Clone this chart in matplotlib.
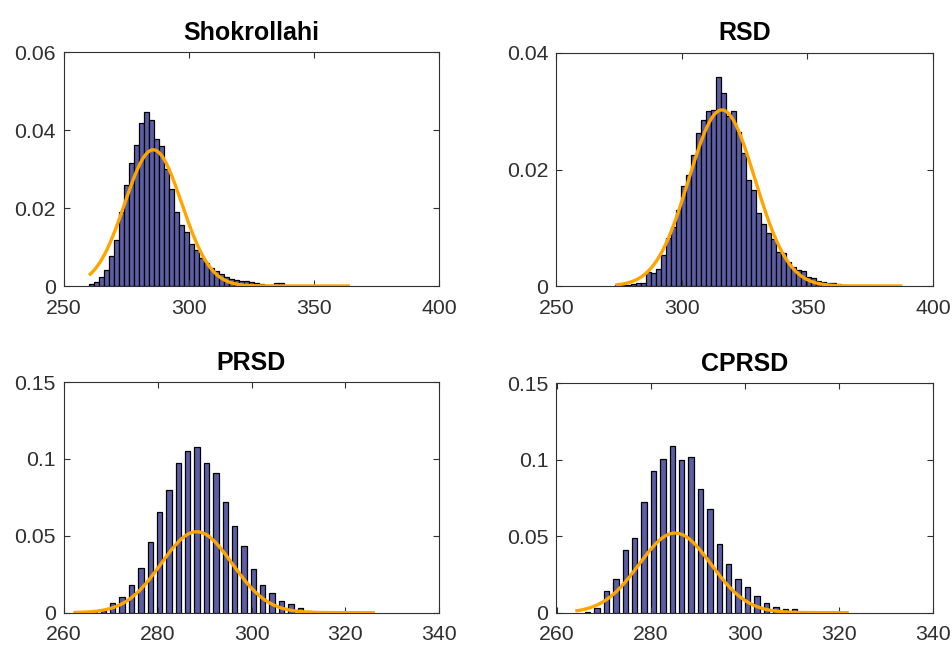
import numpy as np
import matplotlib.pyplot as plt

plt.rcParams['font.family'] = ['Liberation Sans', 'DejaVu Sans']

# histogram densities
shok_left = 260          # first bin edge, bins are 2 wide
shok_density = [0.0004, 0.0010, 0.0022, 0.0041, 0.0078, 0.0118, 0.0190, 0.0259,
                0.0316, 0.0362, 0.0418, 0.0448, 0.0427, 0.0378, 0.0360, 0.0300,
                0.0248, 0.0190, 0.0157, 0.0139, 0.0109, 0.0092, 0.0071, 0.0058,
                0.0045, 0.0038, 0.0030, 0.0022, 0.0018, 0.0015, 0.0014, 0.0012,
                0.0009, 0.0007, 0.0004, 0.0002, 0.0002, 0.0008, 0.0008]

rsd_left = 273.5
rsd_density = [0.0001, 0.0001, 0.0002, 0.0003, 0.0005, 0.0006, 0.0024, 0.0022,
               0.0030, 0.0054, 0.0082, 0.0102, 0.0131, 0.0171, 0.0190, 0.0225,
               0.0262, 0.0285, 0.0300, 0.0302, 0.0359, 0.0331, 0.0292, 0.0300,
               0.0265, 0.0228, 0.0182, 0.0165, 0.0126, 0.0107, 0.0091, 0.0080,
               0.0059, 0.0057, 0.0042, 0.0033, 0.0028, 0.0025, 0.0016, 0.0013,
               0.0009, 0.0007, 0.0006, 0.0005, 0.0004]

prsd_first = 266.4       # first bar centre, bars every 2
prsd_density = [0.0004, 0.0012, 0.0063, 0.0104, 0.0178, 0.0293, 0.0461, 0.0654,
                0.0797, 0.0976, 0.1052, 0.1078, 0.0974, 0.0911, 0.0720, 0.0564,
                0.0434, 0.0283, 0.0178, 0.0126, 0.0079, 0.0054, 0.0028, 0.0008]

cprsd_first = 266.6
cprsd_density = [0.0007, 0.0029, 0.0140, 0.0218, 0.0409, 0.0487, 0.0720, 0.0927,
                 0.1002, 0.1090, 0.1000, 0.1015, 0.0810, 0.0680, 0.0447, 0.0317,
                 0.0218, 0.0167, 0.0112, 0.0061, 0.0037, 0.0026, 0.0026]

# normal fits (mean, std, x range of the curve)
fit_mu = [285.7, 315.9, 288.3, 285.2]
fit_sd = [11.4, 13.2, 7.58, 7.67]
fit_lo = [260.0, 273.5, 262.0, 264.0]
fit_hi = [364.4, 387.8, 326.3, 322.1]

titles = ['Shokrollahi', 'RSD', 'PRSD', 'CPRSD']
xticks = [[250, 300, 350, 400], [250, 300, 350, 400],
          [260, 280, 300, 320, 340], [260, 280, 300, 320, 340]]
yticks = [[0, 0.02, 0.04, 0.06], [0, 0.02, 0.04],
          [0, 0.05, 0.1, 0.15], [0, 0.05, 0.1, 0.15]]

W, H = 953, 653
fig = plt.figure(figsize=(W / 100, H / 100), dpi=100)
boxes = [(64, 52.5, 439, 286), (556.5, 53, 933, 286),
         (64, 382, 439, 612.7), (556.5, 383, 933, 612.7)]
axes = [fig.add_axes([l / W, 1 - b / H, (r - l) / W, (b - t) / H])
        for l, t, r, b in boxes]

bar_col = '#5b5ea4'
ink = '#303030'

# contiguous bins
for ax, left, dens in [(axes[0], shok_left, shok_density),
                       (axes[1], rsd_left, rsd_density)]:
    x = left + 2 * np.arange(len(dens))
    ax.bar(x, dens, width=2, align='edge', color=bar_col,
           edgecolor='black', linewidth=0.9)

# discrete values, every other bin
for ax, first, dens in [(axes[2], prsd_first, prsd_density),
                        (axes[3], cprsd_first, cprsd_density)]:
    x = first + 2 * np.arange(len(dens))
    ax.bar(x, dens, width=1.15, align='center', color=bar_col,
           edgecolor='black', linewidth=0.9)

for i, ax in enumerate(axes):
    xs = np.linspace(fit_lo[i], fit_hi[i], 300)
    mu, sd = fit_mu[i], fit_sd[i]
    ys = np.exp(-0.5 * ((xs - mu) / sd) ** 2) / (sd * np.sqrt(2 * np.pi))
    ax.plot(xs, ys, color='#ffa500', linewidth=2.4, solid_capstyle='butt')

    ax.set_xlim(xticks[i][0], xticks[i][-1])
    ax.set_ylim(yticks[i][0], yticks[i][-1])
    ax.set_xticks(xticks[i])
    ax.set_xticklabels([f'{v:g}' for v in xticks[i]])
    ax.set_yticks(yticks[i])
    ax.set_yticklabels([f'{v:g}' for v in yticks[i]])
    ax.tick_params(direction='in', length=4, width=0.8, colors=ink,
                   labelsize=15.3, top=True, right=True)
    ax.tick_params(axis='x', pad=9)
    ax.tick_params(axis='y', pad=6)
    for s in ax.spines.values():
        s.set_color(ink)
        s.set_linewidth(0.8)
    ax.set_title(titles[i], fontsize=18, fontweight='bold', pad=9, color='black')

fig.savefig('out.png', dpi=100)
